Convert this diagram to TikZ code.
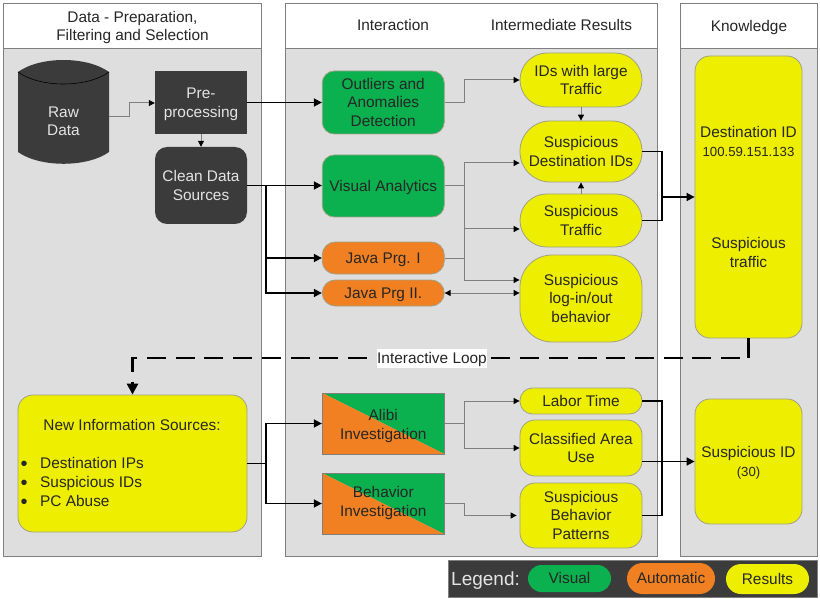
\documentclass[tikz,border=0pt]{standalone}
\usepackage{fontspec}
\setmainfont{Liberation Sans}
\usetikzlibrary{arrows.meta,calc}
\definecolor{panelgray}{HTML}{DEDEDE}
\definecolor{panelline}{HTML}{7F7F7F}
\definecolor{nodeline}{HTML}{A0A088}
\definecolor{yel}{HTML}{EEEE00}
\definecolor{grn}{HTML}{0BB04F}
\definecolor{org}{HTML}{F08022}
\definecolor{drk}{HTML}{3B3B3B}
\definecolor{txt}{HTML}{262626}
\definecolor{ltxt}{HTML}{E4E4E4}
\newcommand\cl[1]{\raisebox{0pt}[10.8pt][0pt]{#1}}
\tikzset{
  base/.style={font=\fontsize{15.4}{18.7}\selectfont,text=txt,align=center,inner sep=0pt},
  hdr/.style={base,draw=panelline,line width=1pt,fill=white,anchor=north west},
  body/.style={draw=panelline,line width=1pt,fill=panelgray,anchor=north west,inner sep=0pt},
  box/.style={base,draw=nodeline,line width=0.8pt,minimum width=#1},
  box/.default=122,
  dark/.style={base,fill=drk,text=ltxt,minimum width=92},
  res/.style={box,fill=yel},
  vis/.style={box,fill=grn,rounded corners=12pt},
  auto/.style={box,fill=org,rounded corners=13pt},
  split/.style={box,draw=panelline,path picture={
    \fill[grn] (path picture bounding box.north west) -- (path picture bounding box.north east) -- (path picture bounding box.south east) -- cycle;
    \fill[org] (path picture bounding box.north west) -- (path picture bounding box.south west) -- (path picture bounding box.south east) -- cycle;}},
  thinarrow/.style={draw=panelline,line width=1pt,-{Triangle[length=6pt,width=6pt,black]}},
  thinline/.style={draw=panelline,line width=1pt},
  thickarrow/.style={draw=black,line width=1.6pt,-{Triangle[length=8pt,width=8pt,black]}},
  thickline/.style={draw=black,line width=1.6pt},
  caption/.style={base},
  dot/.style={base,anchor=base west,font=\fontsize{20}{20}\selectfont}
}
\begin{document}
\begin{tikzpicture}[x=1pt,y=-1pt]
\useasboundingbox[fill=white] (0,0) rectangle (820,599);
% panels
\node[body,minimum width=258,minimum height=508] (pa) at (3,48) {};
\node[body,minimum width=372,minimum height=508] (pb) at (285,48) {};
\node[body,minimum width=137,minimum height=508] (pc) at (680,48) {};
\node[hdr,minimum width=258,minimum height=45] (ha) at (3,3) {\cl{Data - Preparation,}\\\cl{Filtering and Selection}};
\node[hdr,minimum width=372,minimum height=45] (hb) at (285,3) {};
\node[hdr,minimum width=137,minimum height=45] (hc) at (680,3) {\cl{Knowledge}};
\node[caption] (cap1) at (393,25) {\cl{Interaction}};
\node[caption] (cap2) at (561.5,25) {\cl{Intermediate Results}};
% raw data cylinder
\fill[drk] (18,72) .. controls (40,56) and (87,56) .. (109,72) -- (109,152) .. controls (87,167.7) and (40,167.7) .. (18,152) -- cycle;
\draw[black,line width=0.6pt] (18,72) .. controls (40,88) and (87,88) .. (109,72);
\node[base,text=ltxt,minimum width=91,minimum height=84] (raw) at (63.5,121) {\cl{Raw}\\\cl{Data}};
% data nodes
\node[dark,minimum height=63] (pre) at (201,102.5) {\cl{Pre-}\\\cl{processing}};
\node[dark,minimum height=77,rounded corners=12pt] (clean) at (201,185.5) {\cl{Clean Data}\\\cl{Sources}};
\node[res,minimum width=229,minimum height=137,rounded corners=15pt] (newinfo) at (132.5,463.5) {};
\node[base] (nist) at (132,425) {\cl{New Information Sources:}};
\node[dot] (b1) at (20.5,470.5) {•};
\node[dot] (b2) at (20.5,489.5) {•};
\node[dot] (b3) at (20.5,508.5) {•};
\node[base,anchor=base west] (l1) at (40,468.5) {Destination IPs};
\node[base,anchor=base west] (l2) at (40,487.5) {Suspicious IDs};
\node[base,anchor=base west] (l3) at (40,506.5) {PC Abuse};
% interaction nodes
\node[vis,minimum height=63] (out) at (383.25,102.5) {\cl{Outliers and}\\Anomalies\\\cl{Detection}};
\node[vis,minimum height=62] (va) at (383.25,186) {\cl{Visual Analytics}};
\node[auto,minimum height=32] (jone) at (383.25,258) {\cl{Java Prg. I}};
\node[auto,minimum height=26] (jtwo) at (383.25,293) {\cl{Java Prg II.}};
\node[split,minimum height=61] (alibi) at (383.25,423.5) {\raisebox{0pt}[12.8pt][0pt]{Alibi}\\\cl{Investigation}};
\node[split,minimum height=61] (behav) at (383.25,503.5) {\cl{Behavior}\\\raisebox{0pt}[10.8pt][4pt]{Investigation}};
% results
\node[res,minimum height=54,rounded corners=27pt] (ids) at (581,80) {\cl{IDs with large}\\\cl{Traffic}};
\node[res,minimum height=61,rounded corners=30pt] (dest) at (581,151.5) {\cl{Suspicious}\\\cl{Destination IDs}};
\node[res,minimum height=53,rounded corners=26.5pt] (traf) at (581,220.5) {\cl{Suspicious}\\\cl{Traffic}};
\node[res,minimum height=87,rounded corners=32pt] (login) at (581,298.5) {\cl{Suspicious}\\log-in/out\\\cl{behavior}};
\node[res,minimum height=26,rounded corners=12.5pt] (labor) at (581,401) {\cl{Labor Time}};
\node[res,minimum height=56,rounded corners=15pt] (area) at (581,448) {\cl{Classified Area}\\\cl{Use}};
\node[res,minimum height=65,rounded corners=15pt] (patt) at (581,515.5) {\cl{Suspicious}\\Behavior\\\cl{Patterns}};
% knowledge
\node[res,minimum width=107,minimum height=282,rounded corners=15pt] (destid) at (748.5,197) {\cl{Destination ID}\\{\fontsize{13.2}{18.7}\selectfont 100.59.151.133}\\[73.3pt]Suspicious\\\cl{traffic}};
\node[res,minimum width=107,minimum height=125,rounded corners=15pt] (susid) at (748.5,461.5) {\cl{Suspicious ID}\\\cl{\fontsize{13.2}{18.7}\selectfont (30)}};
% legend
\node[fill=drk,draw=panelline,line width=0.6pt,anchor=north west,minimum width=369,minimum height=37,inner sep=0pt] (legbar) at (448,560) {};
\node[base,text=ltxt,font=\fontsize{19}{20}\selectfont,anchor=west] (legt) at (451,578.5) {\raisebox{0pt}[13.5pt][0pt]{Legend:}};
\node[vis,draw=none,minimum width=83,minimum height=27,rounded corners=13.5pt] (legv) at (569.5,578.5) {\cl{Visual}};
\node[auto,draw=none,minimum width=88,minimum height=31,rounded corners=15.5pt] (lega) at (671,578.5) {\cl{Automatic}};
\node[res,draw=none,minimum width=83,minimum height=30,rounded corners=15pt] (legr) at (767.5,579) {\cl{Results}};
% left connectors
\draw[thinarrow] ([yshift=4pt]raw.east) -| (129,103) -- (pre.west |- 0,103);
\draw[thinarrow] (pre.south) -- (clean.north);
\draw[thickarrow] (pre.east) -- (out.west);
\draw[thickarrow] (clean.east) -- (clean.east -| va.west);
\coordinate (cj) at (266,185.5);
\draw[thickarrow] (cj) |- (jone.west);
\draw[thickarrow] (cj) |- (jtwo.west);
% interaction -> results
\draw[thinarrow] (out.east) -- ++(20,0) |- (ids.west);
\coordinate (vj) at ($(va.east)+(20,0)$);
\draw[thinline] (va.east) -- (vj);
\draw[thinarrow] (vj) |- ([yshift=-11.5pt]dest.west);
\draw[thinarrow] (vj) |- ([yshift=-8.5pt]traf.west);
\draw[thinarrow] (vj) |- ([yshift=18.5pt]login.west);
\draw[thinline] (jone.east) -- (jone.east -| vj);
\draw[draw=panelline,line width=1pt,{Triangle[length=6pt,width=6pt,black]}-{Triangle[length=6pt,width=6pt,black]}] (jtwo.east) -- (jtwo.east -| login.west);
\draw[thinarrow] (ids.south) -- (dest.north);
\draw[thinarrow] (traf.north) -- (dest.south);
% results -> knowledge
\coordinate (kj) at (662,197);
\draw[thickline] (dest.east) -| (kj);
\draw[thickline] (traf.east) -| (kj);
\draw[thickarrow] (kj) -- (destid.west);
% interactive loop
\coordinate (loopr) at (748.5,358);
\coordinate (loopl) at (132.5,358);
\draw[black,line width=2.6pt] (destid.south) -- (loopr);
\draw[black,line width=2.6pt,dash pattern=on 19pt off 9.7pt,-{Triangle[length=11pt,width=11pt,black]}] (740,358) -- (loopl) -- (newinfo.north);
\node[base,fill=white,minimum width=110,minimum height=19] (loop) at (432,358.5) {\cl{Interactive Loop}};
% lower connectors
\coordinate (nj) at (266,463.5);
\draw[thickline] (newinfo.east) -- (nj);
\draw[thickarrow] (nj) |- (alibi.west);
\draw[thickarrow] (nj) |- (behav.west);
\coordinate (aj) at ($(alibi.east)+(20,0)$);
\draw[thinline] (alibi.east) -- (aj);
\draw[thinarrow] (aj) |- (labor.west);
\draw[thinarrow] (aj) |- (area.west);
\draw[thinarrow] (behav.east) -- ++(20,0) |- ([xshift=-3pt,yshift=0pt]patt.west);
\coordinate (lj) at (662,461.5);
\draw[thickline] (labor.east) -| (lj);
\draw[thickline] (patt.east) -| (lj);
\draw[thickarrow] (area.east |- lj) -- (susid.west);
\end{tikzpicture}
\end{document}
